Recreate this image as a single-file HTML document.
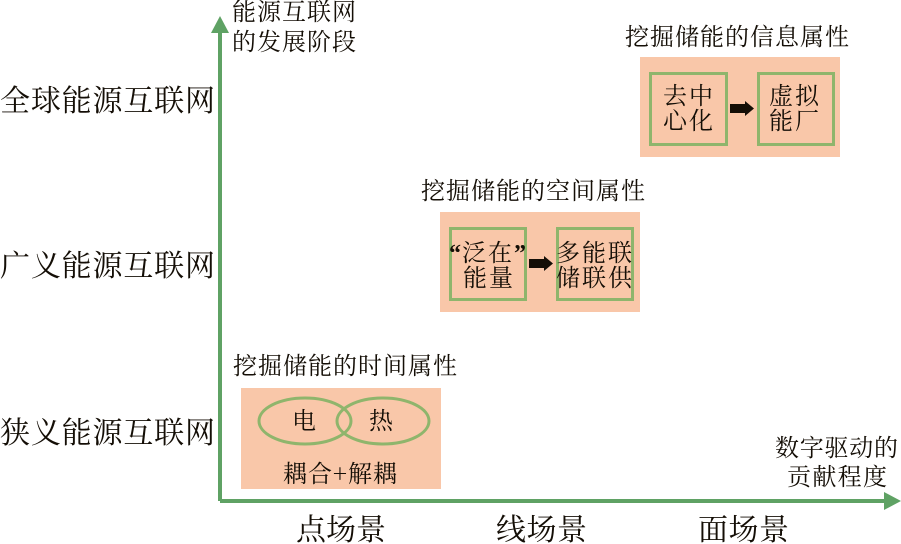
<!DOCTYPE html>
<html><head><meta charset="utf-8">
<style>
html,body{margin:0;padding:0;background:#fff;width:901px;height:544px;overflow:hidden}
svg{display:block}
text{font-family:"Noto Serif CJK SC","Liberation Serif",serif;fill:#140e06;font-weight:400}
text.q{font-family:"Liberation Serif",serif;font-weight:700}
</style></head><body>
<svg width="901" height="544" viewBox="0 0 901 544" xmlns="http://www.w3.org/2000/svg">
<rect x="241" y="388" width="200" height="101" fill="#f9c7a9"/>
<rect x="440" y="212" width="200" height="100" fill="#f9c7a9"/>
<rect x="640" y="57" width="200" height="100" fill="#f9c7a9"/>
<g fill="none" stroke="#8fb56c" stroke-width="3">
<ellipse cx="305" cy="421" rx="46" ry="23"/>
<ellipse cx="383" cy="421" rx="46" ry="23"/>
<rect x="450.500" y="228.500" width="75" height="71"/>
<rect x="557.500" y="228.500" width="75" height="71"/>
<rect x="650.500" y="73.500" width="76" height="71"/>
<rect x="758.500" y="73.500" width="75" height="71"/>
</g>
<path d="M220 501H886M220 501V30" fill="none" stroke="#5fa264" stroke-width="4"/>
<path d="M220 16L229 33H211Z" fill="#5fa264"/>
<path d="M901 501L884 492V510Z" fill="#5fa264"/>
<path d="M529 259H544V256L553 263.500L544 271V268H529Z" fill="#140e06"/>
<path d="M730 104H745V101L754 108.500L745 116V113H730Z" fill="#140e06"/>
<g font-size="24">
<text x="232" y="20" textLength="124" lengthAdjust="spacing">能源互联网</text>
<text x="232" y="50" textLength="124" lengthAdjust="spacing">的发展阶段</text>
<text x="625" y="45" textLength="224" lengthAdjust="spacing">挖掘储能的信息属性</text>
<text x="421" y="199" textLength="224" lengthAdjust="spacing">挖掘储能的空间属性</text>
<text x="233" y="374" textLength="224" lengthAdjust="spacing">挖掘储能的时间属性</text>
<text x="775" y="456" textLength="123" lengthAdjust="spacing">数字驱动的</text>
<text x="787" y="485" textLength="100" lengthAdjust="spacing">贡献程度</text>
<text x="663" y="104" textLength="50" lengthAdjust="spacing">去中</text>
<text x="663" y="129" textLength="50" lengthAdjust="spacing">心化</text>
<text x="769" y="104" textLength="50" lengthAdjust="spacing">虚拟</text>
<text x="769" y="129" textLength="50" lengthAdjust="spacing">能厂</text>
<text class="q" x="449" y="261">“</text>
<text x="462" y="261" textLength="50" lengthAdjust="spacing">泛在</text>
<text class="q" x="514" y="261">”</text>
<text x="463" y="286" textLength="50" lengthAdjust="spacing">能量</text>
<text x="556" y="261" textLength="76" lengthAdjust="spacing">多能联</text>
<text x="556" y="286" textLength="76" lengthAdjust="spacing">储联供</text>
<text x="292" y="429">电</text>
<text x="369" y="429">热</text>
<text x="283" y="482" textLength="114" lengthAdjust="spacing">耦合+解耦</text>
</g>
<g font-size="30">
<text x="0" y="111" textLength="215" lengthAdjust="spacing">全球能源互联网</text>
<text x="0" y="276" textLength="215" lengthAdjust="spacing">广义能源互联网</text>
<text x="0" y="443" textLength="215" lengthAdjust="spacing">狭义能源互联网</text>
<text x="296" y="540" textLength="90" lengthAdjust="spacing">点场景</text>
<text x="496" y="540" textLength="91" lengthAdjust="spacing">线场景</text>
<text x="698" y="540" textLength="91" lengthAdjust="spacing">面场景</text>
</g>
</svg>
</body></html>
